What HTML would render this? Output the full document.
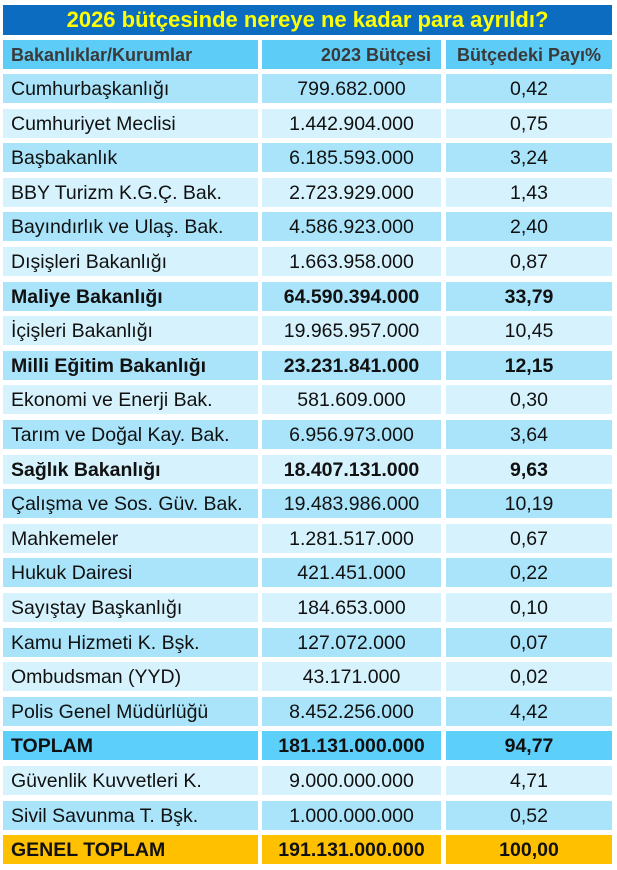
<!DOCTYPE html>
<html><head><meta charset="utf-8"><style>
body{margin:0;width:617px;height:870px;background:#fff;font-family:"Liberation Sans",Arial,sans-serif;position:relative;overflow:hidden}
.t{position:absolute;left:3px;top:5px;width:609px;height:30px;background:#0b6cc0;color:#ffff00;font-weight:bold;font-size:22px;text-align:center;line-height:30px}
.r{position:absolute;left:0;height:29px;width:617px}
.r div{position:absolute;top:0;height:29px;line-height:30px;font-size:19.5px;color:#111;white-space:nowrap}
.a{left:3px;width:247px;padding-left:8px}
.b{left:262px;width:179px;text-align:center}
.c{left:446px;width:166px;text-align:center}
.o div{background:#a9e4fa}.e div{background:#d6f3fd}
.h div{background:#5dcdf8;color:#3a3a3a;font-weight:bold;font-size:18px}
.h .b{text-align:right;width:169px;padding-right:10px}
.k div{font-weight:bold}
.tp div{background:#5ccffb;font-weight:bold}
.g div{background:#ffc000;font-weight:bold}
</style></head><body>
<div class="t">2026 bütçesinde nereye ne kadar para ayrıldı?</div>
<div class="r h" style="top:40px"><div class="a">Bakanlıklar/Kurumlar</div><div class="b">2023 Bütçesi</div><div class="c">Bütçedeki Payı%</div></div>
<div class="r o" style="top:74px"><div class="a">Cumhurbaşkanlığı</div><div class="b">799.682.000</div><div class="c">0,42</div></div>
<div class="r e" style="top:108.6px"><div class="a">Cumhuriyet Meclisi</div><div class="b">1.442.904.000</div><div class="c">0,75</div></div>
<div class="r o" style="top:143.2px"><div class="a">Başbakanlık</div><div class="b">6.185.593.000</div><div class="c">3,24</div></div>
<div class="r e" style="top:177.8px"><div class="a">BBY Turizm K.G.Ç. Bak.</div><div class="b">2.723.929.000</div><div class="c">1,43</div></div>
<div class="r o" style="top:212.4px"><div class="a">Bayındırlık ve Ulaş. Bak.</div><div class="b">4.586.923.000</div><div class="c">2,40</div></div>
<div class="r e" style="top:247px"><div class="a">Dışişleri Bakanlığı</div><div class="b">1.663.958.000</div><div class="c">0,87</div></div>
<div class="r o k" style="top:281.6px"><div class="a">Maliye Bakanlığı</div><div class="b">64.590.394.000</div><div class="c">33,79</div></div>
<div class="r e" style="top:316.2px"><div class="a">İçişleri Bakanlığı</div><div class="b">19.965.957.000</div><div class="c">10,45</div></div>
<div class="r o k" style="top:350.8px"><div class="a">Milli Eğitim Bakanlığı</div><div class="b">23.231.841.000</div><div class="c">12,15</div></div>
<div class="r e" style="top:385.4px"><div class="a">Ekonomi ve Enerji Bak.</div><div class="b">581.609.000</div><div class="c">0,30</div></div>
<div class="r o" style="top:420px"><div class="a">Tarım ve Doğal Kay. Bak.</div><div class="b">6.956.973.000</div><div class="c">3,64</div></div>
<div class="r e k" style="top:454.6px"><div class="a">Sağlık Bakanlığı</div><div class="b">18.407.131.000</div><div class="c">9,63</div></div>
<div class="r o" style="top:489.2px"><div class="a">Çalışma ve Sos. Güv. Bak.</div><div class="b">19.483.986.000</div><div class="c">10,19</div></div>
<div class="r e" style="top:523.8px"><div class="a">Mahkemeler</div><div class="b">1.281.517.000</div><div class="c">0,67</div></div>
<div class="r o" style="top:558.4px"><div class="a">Hukuk Dairesi</div><div class="b">421.451.000</div><div class="c">0,22</div></div>
<div class="r e" style="top:593px"><div class="a">Sayıştay Başkanlığı</div><div class="b">184.653.000</div><div class="c">0,10</div></div>
<div class="r o" style="top:627.6px"><div class="a">Kamu Hizmeti K. Bşk.</div><div class="b">127.072.000</div><div class="c">0,07</div></div>
<div class="r e" style="top:662.2px"><div class="a">Ombudsman (YYD)</div><div class="b">43.171.000</div><div class="c">0,02</div></div>
<div class="r o" style="top:696.8px"><div class="a">Polis Genel Müdürlüğü</div><div class="b">8.452.256.000</div><div class="c">4,42</div></div>
<div class="r tp" style="top:731.4px"><div class="a">TOPLAM</div><div class="b">181.131.000.000</div><div class="c">94,77</div></div>
<div class="r e" style="top:766px"><div class="a">Güvenlik Kuvvetleri K.</div><div class="b">9.000.000.000</div><div class="c">4,71</div></div>
<div class="r o" style="top:800.6px"><div class="a">Sivil Savunma T. Bşk.</div><div class="b">1.000.000.000</div><div class="c">0,52</div></div>
<div class="r g" style="top:835.2px"><div class="a">GENEL TOPLAM</div><div class="b">191.131.000.000</div><div class="c">100,00</div></div>
</body></html>
